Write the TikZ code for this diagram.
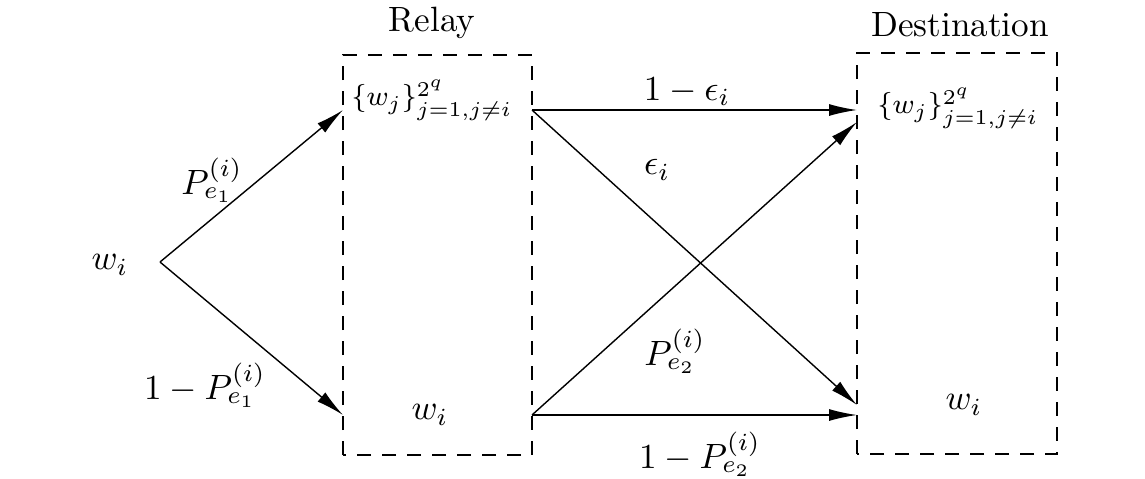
\documentclass[tikz,border=0pt]{standalone}
\usetikzlibrary{positioning, arrows.meta}
\tikzstyle{box}=[draw,dash pattern=on 1.4mm off 1.1mm]
\tikzstyle{every node}=[font=\normalsize]
\newcommand{\others}{\ensuremath{\{w_j\}_{j=1,j\neq i}^{2^q}}}

\begin{document}
\begin{tikzpicture}[>={Latex[length=2.8mm,width=1.2mm]}]
            \useasboundingbox (0,0) rectangle (11.45,4.78);
            % dashed boxes
            \coordinate (relaySW) at (3.43,0.23);
            \coordinate (relayNE) at (5.32,4.23);
            \coordinate (destSW) at (8.57,0.24);
            \coordinate (destNE) at (10.57,4.25);
            \draw[box] (relaySW) rectangle (relayNE);
            \draw[box] (destSW) rectangle (destNE);
            \node at (4.32,4.55) (Rlabel) {Relay};
            \node at (9.60,4.53) (Dlabel) {Destination};
            \node at (1.10,2.13) (Winput) {$w_i$};
            \node[inner sep=1pt] at (4.32,3.78) (Rothers) {\footnotesize\others};
            \node at (4.30,0.63) (Rw) {$w_i$};
            \node[inner sep=1pt] at (9.58,3.70) (Dothers) {\footnotesize\others};
            \node at (9.64,0.73) (Dw) {$w_i$};
            % end points on the dashed boxes
            \coordinate (src) at (1.60,2.16);
            \coordinate (r1in) at (3.43,3.68);
            \coordinate (r0in) at (3.43,0.63);
            \coordinate (r1out) at (5.32,3.68);
            \coordinate (r0out) at (5.32,0.63);
            \coordinate (d1a) at (8.57,3.68);
            \coordinate (d1b) at (8.57,3.56);
            \coordinate (d0a) at (8.57,0.73);
            \coordinate (d0b) at (8.57,0.63);
            \draw[->] (src) -- (r1in);
            \draw[->] (src) -- (r0in);
            \draw[->] (r1out) -- (d1a);
            \draw[->] (r1out) -- (d0a);
            \draw[->] (r0out) -- (d1b);
            \draw[->] (r0out) -- (d0b);
            % transition probabilities
            \node at (2.12,2.98) (pe1) {$P_{e_1}^{(i)}$};
            \node at (2.05,0.93) (npe1) {$1-P_{e_1}^{(i)}$};
            \node at (6.87,3.86) (neps) {$1-\epsilon_i$};
            \node at (6.57,3.08) (eps) {$\epsilon_i$};
            \node at (6.75,1.27) (pe2) {$P_{e_2}^{(i)}$};
            \node at (7.00,0.24) (npe2) {$1-P_{e_2}^{(i)}$};
        \end{tikzpicture}
\end{document}
